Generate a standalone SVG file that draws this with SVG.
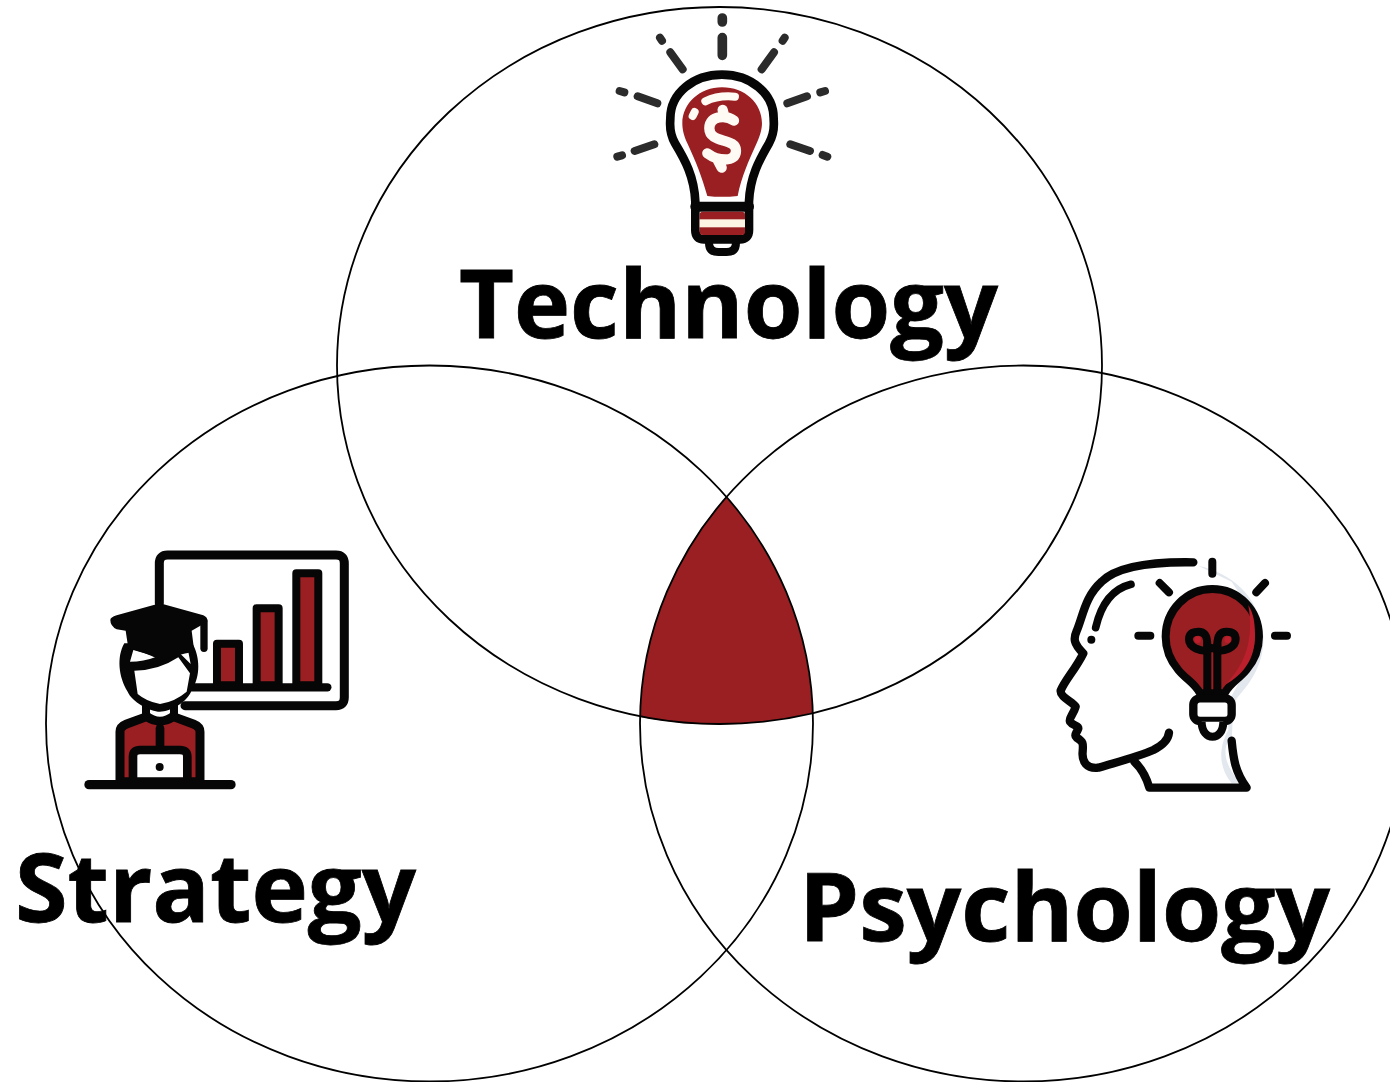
<svg xmlns="http://www.w3.org/2000/svg" width="1390" height="1082" viewBox="0 0 1390 1082">
<style>
.c{fill:none;stroke:#000;stroke-width:1.8}
.t{font-family:"Open Sans","Noto Sans",sans-serif;font-weight:700;font-size:95px;fill:#000;stroke:#000;stroke-width:.8}
.k{fill:none;stroke:#060606;stroke-linecap:round;stroke-linejoin:round}
.r{fill:#991f22}
.ray{fill:none;stroke:#2b2b2b;stroke-linecap:round}
</style>
<rect width="1390" height="1082" fill="#fff"/>
<g id="overlap"><path d="M726 497A383.500 358 0 0 1 812.500 713A382.500 358.500 0 0 1 640.500 717A383.500 358 0 0 1 726 497Z" fill="#991f22"/></g>
<g id="circles">
<ellipse class="c" cx="719.500" cy="365.500" rx="382.500" ry="358.500"/>
<ellipse class="c" cx="429.500" cy="723.500" rx="383.500" ry="358"/>
<ellipse class="c" cx="1023.500" cy="723.500" rx="383.500" ry="358"/>
</g>
<g id="technology">
<g transform="translate(600 0) scale(.3333)">
<g class="ray" stroke-width="29"><path d="M367 113V166M367 54V66"/></g>
<g class="ray" stroke-width="24">
<path d="M211 157L248 208M180 113L186 122M522 157L485 208M554 113L548 122"/>
<path d="M113 289L172 310M59 273L73 277M621 289L562 310M675 273L661 277"/>
<path d="M163 433L104 453M66 466L52 470M571 433L630 453M668 465L682 470"/>
</g>
<path d="M286 605C283 530 255 480 225 430C205 395 211 370 211 355C211 280 280 224 366 224C452 224 521 280 521 355C521 370 527 395 507 430C478 480 450 530 447 605V690Q447 718 420 718H312Q286 718 286 690Z" fill="#fff" stroke="#060606" stroke-width="26"/>
<path d="M286 620H447" class="k" stroke-width="30" stroke-linecap="butt"/>
<path d="M322 588C305 530 290 490 262 430C250 405 247 385 247 370C247 310 300 262 366 262C435 262 486 310 486 370C486 385 482 405 470 430C445 485 425 530 413 588Q365 593 322 588Z" class="r"/>
<path d="M316 304Q355 285 405 290" fill="none" stroke="#fffaf3" stroke-width="24" stroke-linecap="round"/>
<path d="M284 336L278 348" fill="none" stroke="#fffaf3" stroke-width="24" stroke-linecap="round"/>
<path d="M402 362C380 345 328 345 328 385C328 432 408 412 408 452C408 490 352 482 322 460M368 330L372 346M352 478L365 503" fill="none" stroke="#fffaf3" stroke-width="31" stroke-linecap="round" stroke-linejoin="round"/>
<rect x="299" y="635" width="136" height="70" rx="10" class="r"/>
<rect x="299" y="658" width="136" height="24" fill="#fdf4e3"/>
<path d="M327 728Q327 756 355 756H380Q408 756 408 728" class="k" stroke-width="24" fill="#fff"/>
</g>
</g>
<text class="t" x="459" y="338" textLength="539" lengthAdjust="spacingAndGlyphs">Technology</text>
<g id="strategy">
<g transform="translate(75 540) scale(.3333)">
<path d="M253 190V70Q253 45 278 45H783Q808 45 808 70V472Q808 497 783 497H330" class="k" stroke-width="27"/>
<path d="M350 442H757" class="k" stroke-width="25"/>
<rect x="426" y="311" width="66" height="125" class="r" stroke="#060606" stroke-width="24" stroke-linejoin="round"/>
<rect x="545" y="205" width="66" height="231" class="r" stroke="#060606" stroke-width="24" stroke-linejoin="round"/>
<rect x="664" y="100" width="66" height="336" class="r" stroke="#060606" stroke-width="24" stroke-linejoin="round"/>
<path d="M135 620V575Q135 560 155 552L215 530Q255 555 295 530L355 552Q375 560 375 575V725H135Z" class="r" stroke="#060606" stroke-width="27" stroke-linejoin="round"/>
<path d="M213 490V525Q255 560 297 525V490Z" fill="#fff" stroke="#060606" stroke-width="24" stroke-linejoin="round"/>
<path d="M255 565V625" class="k" stroke-width="26"/>
<path d="M174 725V650Q174 630 195 630H315Q337 630 337 650V725Z" fill="#fff" stroke="#060606" stroke-width="26"/>
<circle cx="254" cy="681" r="12" fill="#060606"/>
<path d="M42 734H468" class="k" stroke-width="28"/>
<path d="M148 310C125 350 130 410 158 455C170 485 225 515 255 515C285 515 340 485 350 450C378 410 375 350 352 310Z" fill="#060606"/>
<path d="M178 392Q250 392 310 352L345 400L335 455Q300 485 255 492Q215 485 188 462Z" fill="#fff"/>
<path d="M165 365L175 330L245 350Q205 365 165 365ZM310 335L347 372L340 335Z" fill="#fff"/>
<path d="M106 240Q106 232 125 226L255 190L385 226Q399 232 397 245L350 272L358 335Q300 345 260 362Q205 335 160 325L152 272L125 268Q106 258 106 240Z" fill="#060606"/>
<path d="M387 245V325" class="k" stroke-width="22"/>
</g>
</g>
<text class="t" x="15" y="922" textLength="401" lengthAdjust="spacingAndGlyphs">Strategy</text>
<g id="psychology">
<g transform="translate(1045 545) scale(.3333)">
<path d="M460 62C560 85 640 150 655 270C660 360 610 420 575 460C560 490 565 530 560 580C530 600 535 660 585 712L560 715C515 660 525 600 550 555L550 470L600 380L620 200L560 110Z" fill="#e3e8ee"/>
<path d="M445 52C330 50 220 60 170 110C120 155 115 210 95 258C85 280 85 295 115 325C90 375 60 405 47 437C45 455 80 470 92 485C85 510 70 520 75 530C85 545 100 540 100 550C95 565 85 570 95 578C115 590 115 595 113 620C110 650 125 672 160 668C220 650 280 635 325 615C355 600 370 585 372 563" class="k" stroke-width="25"/>
<path d="M258 118C210 130 170 170 152 248" class="k" stroke-width="23"/>
<circle cx="139" cy="284" r="12" fill="#060606"/>
<path d="M268 650C295 675 305 700 313 728H605C570 680 565 640 560 587" class="k" stroke-width="25"/>
<path d="M502 50V86M344 114L372 142M660 114L634 142M280 272H316M690 272H726" class="k" stroke-width="24"/>
<path d="M465 445C450 415 425 405 400 375C375 345 362 315 362 275C362 195 425 132 502 132C580 132 642 195 642 275C642 315 629 345 604 375C579 405 554 415 539 445Z" class="r" stroke="#060606" stroke-width="24"/>
<path d="M610 180C625 270 610 350 540 420C600 385 630 340 630 270C630 230 625 205 610 180Z" fill="#bb1f2c"/>
<path d="M487 300V447M517 300V447" class="k" stroke-width="24"/>
<path d="M487 318C470 318 432 310 432 283C432 262 450 260 460 260C480 260 487 275 487 300C487 300 490 310 502 310C514 310 517 300 517 300C517 275 525 260 545 260C560 260 572 265 572 283C572 310 535 318 517 318" class="k" stroke-width="24"/>
<circle cx="458" cy="284" r="10" fill="#bb1f2c"/><circle cx="548" cy="284" r="10" fill="#bb1f2c"/>
<rect x="445" y="460" width="115" height="68" rx="20" fill="#fff" stroke="#060606" stroke-width="25"/>
<path d="M470 530C470 590 535 590 535 530" fill="#fff" stroke="#060606" stroke-width="24"/>
</g>
</g>
<text class="t" x="799" y="941" textLength="531" lengthAdjust="spacingAndGlyphs">Psychology</text>
</svg>
